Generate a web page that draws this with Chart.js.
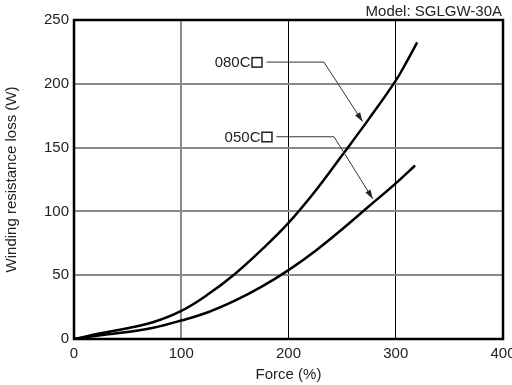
<!DOCTYPE html>
<html lang="en">
<head>
<meta charset="UTF-8">
<title>Winding resistance loss</title>
<style>
    body {
        margin: 0;
        background: #fff;
        overflow: hidden;
    }
    .wrap {
        width: 512px;
        height: 385px;
        position: relative;
    }
</style>
<script src="https://cdn.jsdelivr.net/npm/chart.js"></script>
</head>
<body>
<div class="wrap">
    <canvas id="lossChart"></canvas>
</div>
<script>
// values
const force080 = [0, 25, 50, 75, 100, 125, 150, 175, 200, 225, 250, 275, 300, 310, 320];
const loss080 = [0, 4.5, 8.5, 13.5, 22, 35, 51, 70, 91, 116, 144, 172.5, 202.5, 217, 232.5];
const force050 = [0, 25, 50, 75, 100, 125, 150, 175, 200, 225, 250, 275, 300, 318];
const loss050 = [0, 3, 5.5, 9, 14.5, 21, 30, 41, 54, 69, 86, 104, 122, 136];
const seriesNames = ['080C', '050C'];
const xTicks = [0, 100, 200, 300, 400];
const yTicks = [0, 50, 100, 150, 200, 250];

const FONT = '"Liberation Sans", Arial, sans-serif';
const TEXT = '#222';

function pairs(xs, ys) {
    return xs.map((x, i) => ({ x: x, y: ys[i] }));
}

// callout layout (data units): square left edge, bend, arrow tip
const callouts = [
    { box: [165.5, 217], bend: [233, 217], tip: [269, 170.5] },
    { box: [174.8, 158.5], bend: [242.4, 158.5], tip: [278.5, 110] }
];

const extras = {
    id: 'extras',
    afterDatasetsDraw(chart) {
        const c = chart.ctx;
        const a = chart.chartArea;
        const xs = chart.scales.x, ys = chart.scales.y;
        c.save();
        // frame
        c.strokeStyle = '#000';
        c.lineWidth = 2.5;
        c.strokeRect(a.left, a.top, a.right - a.left, a.bottom - a.top);

        // model label
        c.fillStyle = TEXT;
        c.font = '15px ' + FONT;
        c.textAlign = 'right';
        c.textBaseline = 'alphabetic';
        c.fillText('Model: SGLGW-30A', 502, 16);

        callouts.forEach((co, i) => {
            const bx = xs.getPixelForValue(co.box[0]);
            const by = ys.getPixelForValue(co.box[1]);
            c.fillStyle = TEXT;
            c.textAlign = 'right';
            c.textBaseline = 'middle';
            c.fillText(seriesNames[i], bx - 1, by + 1);
            c.strokeStyle = '#222';
            c.lineWidth = 1.5;
            c.strokeRect(bx + 0.5, by - 4.5, 10, 9.5);

            const kx = xs.getPixelForValue(co.bend[0]);
            const ky = ys.getPixelForValue(co.bend[1]);
            const tx = xs.getPixelForValue(co.tip[0]);
            const ty = ys.getPixelForValue(co.tip[1]);
            c.lineWidth = 1;
            c.strokeStyle = '#333';
            c.beginPath();
            c.moveTo(bx + 15, by);
            c.lineTo(kx, ky);
            c.lineTo(tx, ty);
            c.stroke();
            // arrow head
            const ang = Math.atan2(ty - ky, tx - kx);
            const len = 9, half = 3;
            c.fillStyle = '#222';
            c.beginPath();
            c.moveTo(tx, ty);
            c.lineTo(tx - len * Math.cos(ang) + half * Math.sin(ang), ty - len * Math.sin(ang) - half * Math.cos(ang));
            c.lineTo(tx - len * Math.cos(ang) - half * Math.sin(ang), ty - len * Math.sin(ang) + half * Math.cos(ang));
            c.closePath();
            c.fill();
        });
        c.restore();
    }
};

const ctx = document.getElementById('lossChart').getContext('2d');
const lossChart = new Chart(ctx, {
    type: 'line',
    data: {
        datasets: [
            {
                label: seriesNames[0],
                data: pairs(force080, loss080),
                borderColor: '#000',
                borderWidth: 2.5,
                pointRadius: 0,
                tension: 0.4,
                fill: false
            },
            {
                label: seriesNames[1],
                data: pairs(force050, loss050),
                borderColor: '#000',
                borderWidth: 2.5,
                pointRadius: 0,
                tension: 0.4,
                fill: false
            }
        ]
    },
    options: {
        responsive: true,
        maintainAspectRatio: false,
        animation: false,
        events: [],
        layout: {
            padding: { top: 20, left: 0, right: 0, bottom: 0 }
        },
        plugins: {
            legend: { display: false },
            tooltip: { enabled: false }
        },
        scales: {
            x: {
                type: 'linear',
                min: xTicks[0],
                max: xTicks[xTicks.length - 1],
                afterBuildTicks: s => { s.ticks = xTicks.map(v => ({ value: v })); },
                afterFit: s => { s.height = 46; s.paddingRight = 9; s.paddingLeft = 0; },
                border: { display: false },
                grid: {
                    drawTicks: false,
                    color: g => {
                        const v = g.tick.value;
                        if (v === 0 || v === 400) return 'rgba(0,0,0,0)';
                        return v === 100 ? '#8a8a8a' : '#000';
                    },
                    lineWidth: g => g.tick.value === 100 ? 2 : 1
                },
                ticks: {
                    color: TEXT,
                    padding: 6,
                    maxRotation: 0,
                    font: { family: FONT, size: 15 }
                },
                title: {
                    display: true,
                    text: 'Force (%)',
                    color: TEXT,
                    padding: { top: 0, bottom: 1 },
                    font: { family: FONT, size: 15 }
                }
            },
            y: {
                min: yTicks[0],
                max: yTicks[yTicks.length - 1],
                afterBuildTicks: s => { s.ticks = yTicks.map(v => ({ value: v })); },
                afterFit: s => { s.width = 74; },
                border: { display: false },
                grid: {
                    drawTicks: false,
                    color: g => (g.tick.value === 0 || g.tick.value === 250) ? 'rgba(0,0,0,0)' : '#8a8a8a',
                    lineWidth: 2
                },
                ticks: {
                    color: TEXT,
                    padding: 5,
                    font: { family: FONT, size: 15 }
                },
                title: {
                    display: true,
                    text: 'Winding resistance loss (W)',
                    color: TEXT,
                    padding: { top: 3, bottom: 0 },
                    font: { family: FONT, size: 15 }
                }
            }
        }
    },
    plugins: [extras]
});
</script>
</body>
</html>
